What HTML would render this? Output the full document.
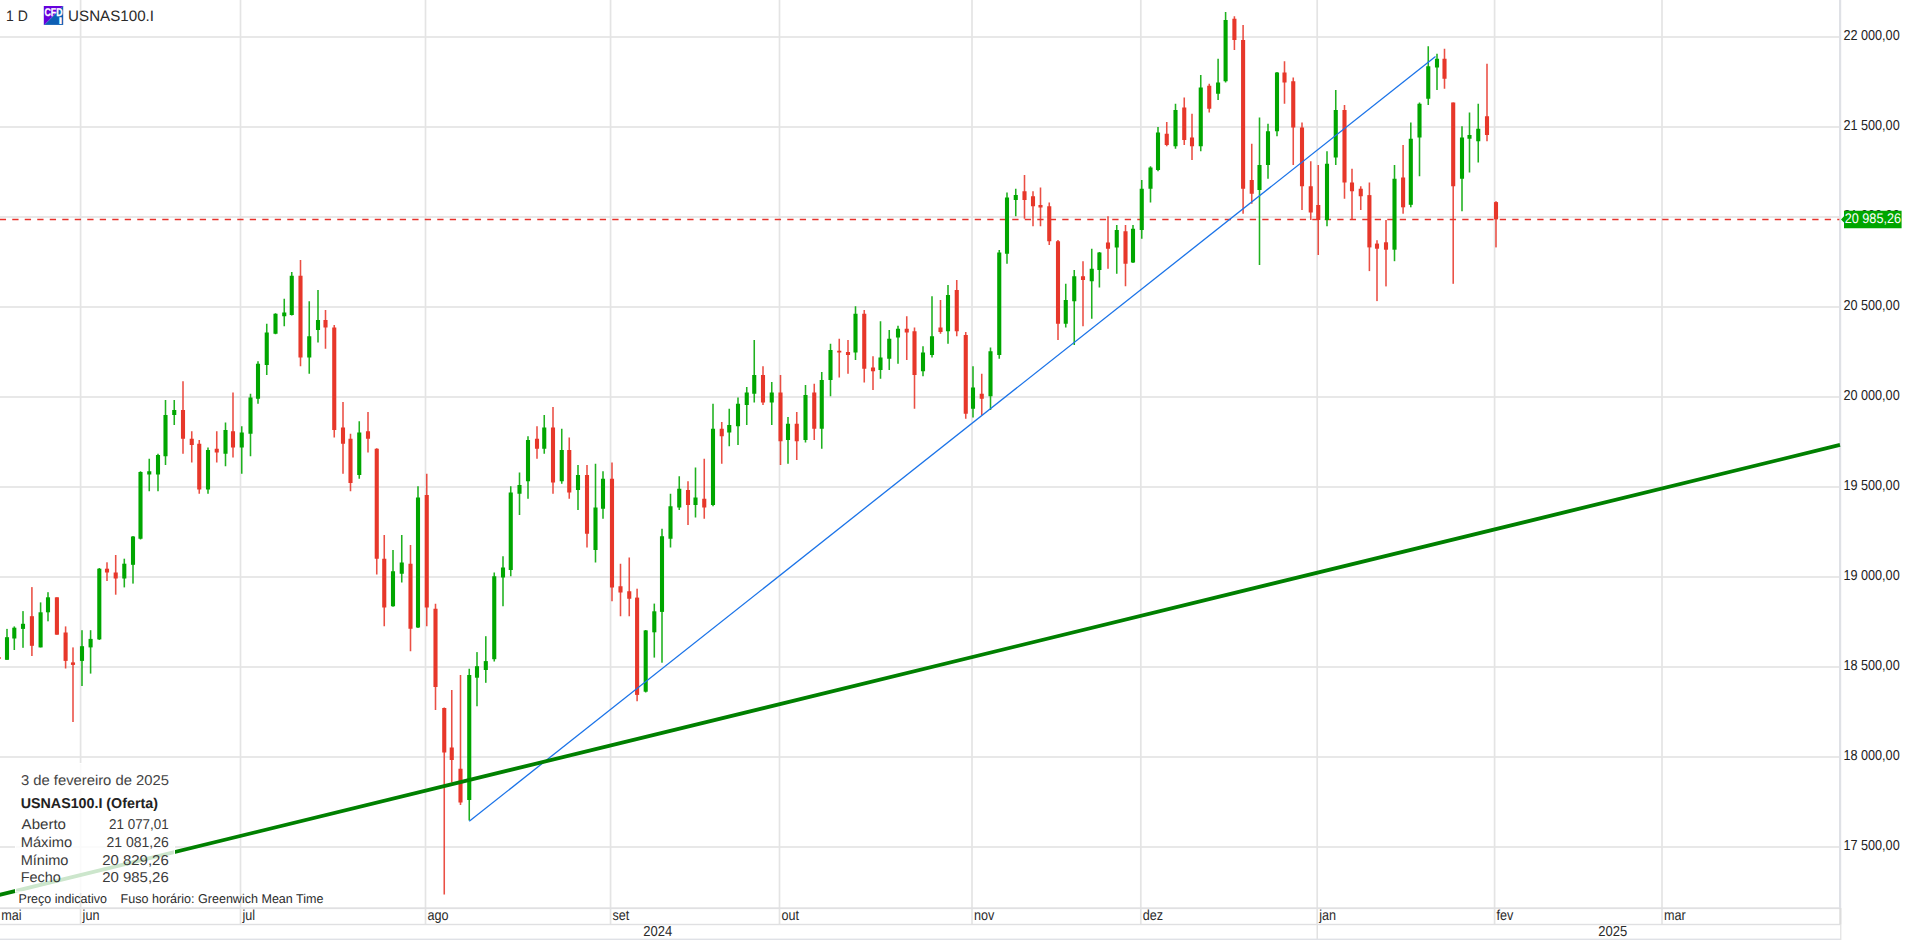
<!DOCTYPE html>
<html lang="pt"><head><meta charset="utf-8"><title>USNAS100.I</title>
<style>
html,body{margin:0;padding:0;background:#fff;}
body{width:1906px;height:940px;position:relative;overflow:hidden;}
svg{position:absolute;left:0;top:0;display:block;}
text{font-family:"Liberation Sans",Arial,sans-serif;text-rendering:geometricPrecision;white-space:pre;}
.ax{font-size:14.5px;fill:#2b2b2b;}
.pl{font-size:14.5px;fill:#222;}
.hd{font-size:15.1px;fill:#2a2a2a;}
.ib{font-size:14.2px;fill:#3a3a3a;}
.ft{font-size:12.8px;fill:#2b2b2b;}
</style></head><body>
<svg width="1906" height="940" viewBox="0 0 1906 940">
<rect x="0" y="35.98" width="1839" height="2.04" fill="#e8e8e8"/>
<rect x="0" y="125.98" width="1839" height="2.04" fill="#e8e8e8"/>
<rect x="0" y="215.98" width="1839" height="2.04" fill="#e8e8e8"/>
<rect x="0" y="305.98" width="1839" height="2.04" fill="#e8e8e8"/>
<rect x="0" y="395.98" width="1839" height="2.04" fill="#e8e8e8"/>
<rect x="0" y="485.98" width="1839" height="2.04" fill="#e8e8e8"/>
<rect x="0" y="575.98" width="1839" height="2.04" fill="#e8e8e8"/>
<rect x="0" y="665.98" width="1839" height="2.04" fill="#e8e8e8"/>
<rect x="0" y="755.98" width="1839" height="2.04" fill="#e8e8e8"/>
<rect x="0" y="845.98" width="1839" height="2.04" fill="#e8e8e8"/>
<rect x="79.75" y="0" width="1.7" height="924.5" fill="#e4e4e4"/>
<rect x="239.65" y="0" width="1.7" height="924.5" fill="#e4e4e4"/>
<rect x="424.65" y="0" width="1.7" height="924.5" fill="#e4e4e4"/>
<rect x="609.70" y="0" width="1.7" height="924.5" fill="#e4e4e4"/>
<rect x="778.65" y="0" width="1.7" height="924.5" fill="#e4e4e4"/>
<rect x="971.15" y="0" width="1.7" height="924.5" fill="#e4e4e4"/>
<rect x="1139.95" y="0" width="1.7" height="924.5" fill="#e4e4e4"/>
<rect x="1316.35" y="0" width="1.7" height="924.5" fill="#e4e4e4"/>
<rect x="1493.75" y="0" width="1.7" height="924.5" fill="#e4e4e4"/>
<rect x="1661.15" y="0" width="1.7" height="924.5" fill="#e4e4e4"/>
<rect x="1316.50" y="924" width="1.5" height="15" fill="#e2e2e2"/>
<rect x="0" y="907.3" width="1841" height="1.8" fill="#e0e0e2"/>
<rect x="0" y="923.8" width="1841" height="1.4" fill="#e0e0e2"/>
<rect x="0" y="938.6" width="1841" height="1.4" fill="#dfe1e6"/>
<rect x="1839" y="0" width="2.2" height="908" fill="#dfe1e6"/>
<rect x="1839.3" y="908" width="2.2" height="16.5" fill="#dcdcdc"/>
<rect x="1840.1" y="924.5" width="1.3" height="15.5" fill="#e4e4e4"/>
<line x1="-0.25" y1="219.45" x2="1839.3" y2="219.45" stroke="#e8312a" stroke-width="1.35" stroke-dasharray="6.3 6.2"/>
<rect x="-2.18" y="656.50" width="1.56" height="3.00" fill="#e7372a" opacity="0.88"/>
<rect x="-3.45" y="657.00" width="4.1" height="2.00" fill="#e7372a"/>
<rect x="6.22" y="628.90" width="1.56" height="30.90" fill="#00a600" opacity="0.88"/>
<rect x="4.95" y="637.20" width="4.1" height="22.60" fill="#00a600"/>
<rect x="13.52" y="626.40" width="1.56" height="23.60" fill="#00a600" opacity="0.88"/>
<rect x="12.25" y="627.70" width="4.1" height="10.80" fill="#00a600"/>
<rect x="22.22" y="611.10" width="1.56" height="36.70" fill="#00a600" opacity="0.88"/>
<rect x="20.95" y="623.80" width="4.1" height="5.10" fill="#00a600"/>
<rect x="31.12" y="587.10" width="1.56" height="68.90" fill="#e7372a" opacity="0.88"/>
<rect x="29.85" y="616.20" width="4.1" height="29.60" fill="#e7372a"/>
<rect x="39.82" y="602.40" width="1.56" height="45.00" fill="#00a600" opacity="0.88"/>
<rect x="38.55" y="612.30" width="4.1" height="35.10" fill="#00a600"/>
<rect x="47.22" y="592.20" width="1.56" height="29.10" fill="#00a600" opacity="0.88"/>
<rect x="45.95" y="597.30" width="4.1" height="15.00" fill="#00a600"/>
<rect x="56.12" y="597.30" width="1.56" height="37.40" fill="#e7372a" opacity="0.88"/>
<rect x="54.85" y="597.30" width="4.1" height="37.40" fill="#e7372a"/>
<rect x="64.82" y="626.40" width="1.56" height="42.10" fill="#e7372a" opacity="0.88"/>
<rect x="63.55" y="632.50" width="4.1" height="28.40" fill="#e7372a"/>
<rect x="72.22" y="647.40" width="1.56" height="74.60" fill="#e7372a" opacity="0.88"/>
<rect x="70.95" y="662.40" width="4.1" height="2.50" fill="#e7372a"/>
<rect x="81.22" y="630.20" width="1.56" height="55.80" fill="#00a600" opacity="0.88"/>
<rect x="79.95" y="646.20" width="4.1" height="14.70" fill="#00a600"/>
<rect x="89.82" y="630.20" width="1.56" height="43.40" fill="#00a600" opacity="0.88"/>
<rect x="88.55" y="638.90" width="4.1" height="8.50" fill="#00a600"/>
<rect x="98.52" y="568.00" width="1.56" height="72.00" fill="#00a600" opacity="0.88"/>
<rect x="97.25" y="568.70" width="4.1" height="70.70" fill="#00a600"/>
<rect x="106.22" y="562.30" width="1.56" height="18.70" fill="#e7372a" opacity="0.88"/>
<rect x="104.95" y="568.70" width="4.1" height="3.80" fill="#e7372a"/>
<rect x="114.92" y="555.00" width="1.56" height="39.70" fill="#e7372a" opacity="0.88"/>
<rect x="113.65" y="572.50" width="4.1" height="6.00" fill="#e7372a"/>
<rect x="123.52" y="558.70" width="1.56" height="28.70" fill="#00a600" opacity="0.88"/>
<rect x="122.25" y="563.70" width="4.1" height="14.80" fill="#00a600"/>
<rect x="132.22" y="536.00" width="1.56" height="47.60" fill="#00a600" opacity="0.88"/>
<rect x="130.95" y="536.50" width="4.1" height="28.30" fill="#00a600"/>
<rect x="139.72" y="471.25" width="1.56" height="68.25" fill="#00a600" opacity="0.88"/>
<rect x="138.45" y="472.00" width="4.1" height="66.75" fill="#00a600"/>
<rect x="148.47" y="458.75" width="1.56" height="32.50" fill="#00a600" opacity="0.88"/>
<rect x="147.20" y="471.25" width="4.1" height="3.25" fill="#00a600"/>
<rect x="157.22" y="453.75" width="1.56" height="37.50" fill="#00a600" opacity="0.88"/>
<rect x="155.95" y="455.00" width="4.1" height="19.50" fill="#00a600"/>
<rect x="164.72" y="400.00" width="1.56" height="65.00" fill="#00a600" opacity="0.88"/>
<rect x="163.45" y="415.00" width="4.1" height="41.25" fill="#00a600"/>
<rect x="173.47" y="400.00" width="1.56" height="25.00" fill="#00a600" opacity="0.88"/>
<rect x="172.20" y="410.00" width="4.1" height="5.00" fill="#00a600"/>
<rect x="182.22" y="381.25" width="1.56" height="72.50" fill="#e7372a" opacity="0.88"/>
<rect x="180.95" y="410.00" width="4.1" height="28.75" fill="#e7372a"/>
<rect x="190.97" y="431.25" width="1.56" height="31.25" fill="#e7372a" opacity="0.88"/>
<rect x="189.70" y="438.75" width="4.1" height="6.25" fill="#e7372a"/>
<rect x="198.47" y="440.00" width="1.56" height="53.75" fill="#e7372a" opacity="0.88"/>
<rect x="197.20" y="443.75" width="4.1" height="45.75" fill="#e7372a"/>
<rect x="207.22" y="447.50" width="1.56" height="46.25" fill="#00a600" opacity="0.88"/>
<rect x="205.95" y="450.00" width="4.1" height="39.50" fill="#00a600"/>
<rect x="215.97" y="431.25" width="1.56" height="31.25" fill="#e7372a" opacity="0.88"/>
<rect x="214.70" y="448.75" width="4.1" height="3.75" fill="#e7372a"/>
<rect x="224.72" y="422.50" width="1.56" height="43.75" fill="#00a600" opacity="0.88"/>
<rect x="223.45" y="430.00" width="4.1" height="23.75" fill="#00a600"/>
<rect x="232.22" y="392.50" width="1.56" height="65.00" fill="#e7372a" opacity="0.88"/>
<rect x="230.95" y="431.25" width="4.1" height="16.25" fill="#e7372a"/>
<rect x="240.97" y="426.25" width="1.56" height="47.50" fill="#00a600" opacity="0.88"/>
<rect x="239.70" y="432.50" width="4.1" height="15.00" fill="#00a600"/>
<rect x="249.72" y="393.75" width="1.56" height="62.50" fill="#00a600" opacity="0.88"/>
<rect x="248.45" y="397.50" width="4.1" height="36.25" fill="#00a600"/>
<rect x="257.22" y="361.25" width="1.56" height="42.50" fill="#00a600" opacity="0.88"/>
<rect x="255.95" y="363.75" width="4.1" height="35.00" fill="#00a600"/>
<rect x="265.97" y="323.75" width="1.56" height="51.25" fill="#00a600" opacity="0.88"/>
<rect x="264.70" y="332.50" width="4.1" height="32.50" fill="#00a600"/>
<rect x="274.72" y="313.25" width="1.56" height="21.00" fill="#00a600" opacity="0.88"/>
<rect x="273.45" y="313.75" width="4.1" height="20.00" fill="#00a600"/>
<rect x="283.47" y="298.75" width="1.56" height="27.50" fill="#00a600" opacity="0.88"/>
<rect x="282.20" y="312.50" width="4.1" height="3.75" fill="#00a600"/>
<rect x="290.97" y="272.00" width="1.56" height="43.50" fill="#00a600" opacity="0.88"/>
<rect x="289.70" y="275.75" width="4.1" height="39.25" fill="#00a600"/>
<rect x="299.72" y="260.00" width="1.56" height="106.25" fill="#e7372a" opacity="0.88"/>
<rect x="298.45" y="275.75" width="4.1" height="81.75" fill="#e7372a"/>
<rect x="308.47" y="301.25" width="1.56" height="72.50" fill="#00a600" opacity="0.88"/>
<rect x="307.20" y="336.25" width="4.1" height="21.25" fill="#00a600"/>
<rect x="317.22" y="290.00" width="1.56" height="52.50" fill="#00a600" opacity="0.88"/>
<rect x="315.95" y="320.00" width="4.1" height="10.00" fill="#00a600"/>
<rect x="324.72" y="310.00" width="1.56" height="38.75" fill="#e7372a" opacity="0.88"/>
<rect x="323.45" y="320.00" width="4.1" height="7.50" fill="#e7372a"/>
<rect x="333.47" y="325.00" width="1.56" height="112.50" fill="#e7372a" opacity="0.88"/>
<rect x="332.20" y="327.50" width="4.1" height="102.50" fill="#e7372a"/>
<rect x="342.22" y="402.00" width="1.56" height="71.75" fill="#e7372a" opacity="0.88"/>
<rect x="340.95" y="427.50" width="4.1" height="16.25" fill="#e7372a"/>
<rect x="349.72" y="433.75" width="1.56" height="57.50" fill="#e7372a" opacity="0.88"/>
<rect x="348.45" y="438.75" width="4.1" height="44.25" fill="#e7372a"/>
<rect x="358.47" y="421.25" width="1.56" height="57.50" fill="#00a600" opacity="0.88"/>
<rect x="357.20" y="432.50" width="4.1" height="42.50" fill="#00a600"/>
<rect x="367.22" y="412.00" width="1.56" height="40.50" fill="#e7372a" opacity="0.88"/>
<rect x="365.95" y="431.25" width="4.1" height="7.50" fill="#e7372a"/>
<rect x="375.97" y="448.25" width="1.56" height="126.25" fill="#e7372a" opacity="0.88"/>
<rect x="374.70" y="448.75" width="4.1" height="110.00" fill="#e7372a"/>
<rect x="383.47" y="535.00" width="1.56" height="91.25" fill="#e7372a" opacity="0.88"/>
<rect x="382.20" y="558.75" width="4.1" height="48.75" fill="#e7372a"/>
<rect x="392.22" y="550.00" width="1.56" height="56.75" fill="#00a600" opacity="0.88"/>
<rect x="390.95" y="571.25" width="4.1" height="35.00" fill="#00a600"/>
<rect x="400.97" y="535.00" width="1.56" height="47.50" fill="#00a600" opacity="0.88"/>
<rect x="399.70" y="562.50" width="4.1" height="11.25" fill="#00a600"/>
<rect x="409.72" y="545.00" width="1.56" height="106.25" fill="#e7372a" opacity="0.88"/>
<rect x="408.45" y="563.75" width="4.1" height="65.00" fill="#e7372a"/>
<rect x="417.22" y="486.25" width="1.56" height="141.75" fill="#00a600" opacity="0.88"/>
<rect x="415.95" y="497.50" width="4.1" height="130.00" fill="#00a600"/>
<rect x="425.97" y="473.75" width="1.56" height="152.50" fill="#e7372a" opacity="0.88"/>
<rect x="424.70" y="495.00" width="4.1" height="112.50" fill="#e7372a"/>
<rect x="434.72" y="603.75" width="1.56" height="106.25" fill="#e7372a" opacity="0.88"/>
<rect x="433.45" y="608.75" width="4.1" height="78.25" fill="#e7372a"/>
<rect x="443.47" y="707.50" width="1.56" height="187.00" fill="#e7372a" opacity="0.88"/>
<rect x="442.20" y="708.00" width="4.1" height="44.50" fill="#e7372a"/>
<rect x="450.97" y="690.00" width="1.56" height="92.50" fill="#e7372a" opacity="0.88"/>
<rect x="449.70" y="747.50" width="4.1" height="12.50" fill="#e7372a"/>
<rect x="459.72" y="675.00" width="1.56" height="130.00" fill="#e7372a" opacity="0.88"/>
<rect x="458.45" y="768.75" width="4.1" height="33.75" fill="#e7372a"/>
<rect x="468.47" y="668.75" width="1.56" height="151.75" fill="#00a600" opacity="0.88"/>
<rect x="467.20" y="675.00" width="4.1" height="125.00" fill="#00a600"/>
<rect x="476.22" y="652.10" width="1.56" height="54.15" fill="#00a600" opacity="0.88"/>
<rect x="474.95" y="666.20" width="4.1" height="11.50" fill="#00a600"/>
<rect x="485.02" y="636.20" width="1.56" height="46.60" fill="#00a600" opacity="0.88"/>
<rect x="483.75" y="661.10" width="4.1" height="8.90" fill="#00a600"/>
<rect x="493.47" y="572.50" width="1.56" height="89.00" fill="#00a600" opacity="0.88"/>
<rect x="492.20" y="576.25" width="4.1" height="82.95" fill="#00a600"/>
<rect x="502.22" y="556.25" width="1.56" height="50.00" fill="#00a600" opacity="0.88"/>
<rect x="500.95" y="567.50" width="4.1" height="10.00" fill="#00a600"/>
<rect x="509.97" y="486.25" width="1.56" height="90.00" fill="#00a600" opacity="0.88"/>
<rect x="508.70" y="492.50" width="4.1" height="77.50" fill="#00a600"/>
<rect x="518.72" y="472.50" width="1.56" height="42.50" fill="#00a600" opacity="0.88"/>
<rect x="517.45" y="485.00" width="4.1" height="8.75" fill="#00a600"/>
<rect x="527.22" y="436.25" width="1.56" height="62.50" fill="#00a600" opacity="0.88"/>
<rect x="525.95" y="440.00" width="4.1" height="41.25" fill="#00a600"/>
<rect x="536.22" y="426.25" width="1.56" height="32.50" fill="#e7372a" opacity="0.88"/>
<rect x="534.95" y="438.75" width="4.1" height="10.00" fill="#e7372a"/>
<rect x="543.47" y="415.00" width="1.56" height="38.75" fill="#00a600" opacity="0.88"/>
<rect x="542.20" y="427.50" width="4.1" height="21.25" fill="#00a600"/>
<rect x="552.22" y="407.00" width="1.56" height="86.75" fill="#e7372a" opacity="0.88"/>
<rect x="550.95" y="427.50" width="4.1" height="55.00" fill="#e7372a"/>
<rect x="560.97" y="428.75" width="1.56" height="55.00" fill="#00a600" opacity="0.88"/>
<rect x="559.70" y="450.00" width="4.1" height="31.25" fill="#00a600"/>
<rect x="568.47" y="437.50" width="1.56" height="61.25" fill="#e7372a" opacity="0.88"/>
<rect x="567.20" y="450.00" width="4.1" height="42.50" fill="#e7372a"/>
<rect x="577.22" y="465.00" width="1.56" height="45.00" fill="#00a600" opacity="0.88"/>
<rect x="575.95" y="475.00" width="4.1" height="15.00" fill="#00a600"/>
<rect x="586.22" y="465.00" width="1.56" height="82.50" fill="#e7372a" opacity="0.88"/>
<rect x="584.95" y="475.00" width="4.1" height="58.75" fill="#e7372a"/>
<rect x="594.72" y="463.75" width="1.56" height="98.75" fill="#00a600" opacity="0.88"/>
<rect x="593.45" y="507.50" width="4.1" height="42.50" fill="#00a600"/>
<rect x="602.22" y="471.25" width="1.56" height="47.50" fill="#00a600" opacity="0.88"/>
<rect x="600.95" y="478.75" width="4.1" height="30.00" fill="#00a600"/>
<rect x="611.22" y="462.50" width="1.56" height="138.75" fill="#e7372a" opacity="0.88"/>
<rect x="609.95" y="478.75" width="4.1" height="108.75" fill="#e7372a"/>
<rect x="619.72" y="563.75" width="1.56" height="52.50" fill="#e7372a" opacity="0.88"/>
<rect x="618.45" y="586.25" width="4.1" height="6.25" fill="#e7372a"/>
<rect x="628.47" y="557.50" width="1.56" height="58.75" fill="#e7372a" opacity="0.88"/>
<rect x="627.20" y="591.25" width="4.1" height="7.50" fill="#e7372a"/>
<rect x="636.32" y="588.70" width="1.56" height="112.55" fill="#e7372a" opacity="0.88"/>
<rect x="635.05" y="597.60" width="4.1" height="97.30" fill="#e7372a"/>
<rect x="644.92" y="630.00" width="1.56" height="62.50" fill="#00a600" opacity="0.88"/>
<rect x="643.65" y="630.40" width="4.1" height="61.30" fill="#00a600"/>
<rect x="653.52" y="603.60" width="1.56" height="54.00" fill="#00a600" opacity="0.88"/>
<rect x="652.25" y="611.30" width="4.1" height="21.00" fill="#00a600"/>
<rect x="661.22" y="528.75" width="1.56" height="133.95" fill="#00a600" opacity="0.88"/>
<rect x="659.95" y="536.25" width="4.1" height="75.65" fill="#00a600"/>
<rect x="669.72" y="493.75" width="1.56" height="53.75" fill="#00a600" opacity="0.88"/>
<rect x="668.45" y="506.25" width="4.1" height="32.50" fill="#00a600"/>
<rect x="678.47" y="476.25" width="1.56" height="33.75" fill="#00a600" opacity="0.88"/>
<rect x="677.20" y="488.75" width="4.1" height="18.75" fill="#00a600"/>
<rect x="687.22" y="481.25" width="1.56" height="43.75" fill="#e7372a" opacity="0.88"/>
<rect x="685.95" y="490.00" width="4.1" height="15.00" fill="#e7372a"/>
<rect x="694.72" y="467.50" width="1.56" height="50.00" fill="#00a600" opacity="0.88"/>
<rect x="693.45" y="497.50" width="4.1" height="7.50" fill="#00a600"/>
<rect x="703.47" y="458.75" width="1.56" height="60.00" fill="#e7372a" opacity="0.88"/>
<rect x="702.20" y="498.75" width="4.1" height="8.75" fill="#e7372a"/>
<rect x="712.22" y="403.75" width="1.56" height="102.50" fill="#00a600" opacity="0.88"/>
<rect x="710.95" y="428.75" width="4.1" height="76.25" fill="#00a600"/>
<rect x="720.97" y="422.00" width="1.56" height="41.75" fill="#e7372a" opacity="0.88"/>
<rect x="719.70" y="428.75" width="4.1" height="7.50" fill="#e7372a"/>
<rect x="728.47" y="408.75" width="1.56" height="37.50" fill="#00a600" opacity="0.88"/>
<rect x="727.20" y="425.00" width="4.1" height="7.50" fill="#00a600"/>
<rect x="737.22" y="397.50" width="1.56" height="47.50" fill="#00a600" opacity="0.88"/>
<rect x="735.95" y="403.75" width="4.1" height="22.50" fill="#00a600"/>
<rect x="745.97" y="387.00" width="1.56" height="38.00" fill="#00a600" opacity="0.88"/>
<rect x="744.70" y="392.50" width="4.1" height="12.50" fill="#00a600"/>
<rect x="753.47" y="340.00" width="1.56" height="62.50" fill="#00a600" opacity="0.88"/>
<rect x="752.20" y="375.00" width="4.1" height="18.75" fill="#00a600"/>
<rect x="762.22" y="366.25" width="1.56" height="38.75" fill="#e7372a" opacity="0.88"/>
<rect x="760.95" y="375.00" width="4.1" height="27.50" fill="#e7372a"/>
<rect x="770.97" y="382.00" width="1.56" height="43.00" fill="#00a600" opacity="0.88"/>
<rect x="769.70" y="392.50" width="4.1" height="10.00" fill="#00a600"/>
<rect x="779.72" y="375.00" width="1.56" height="90.00" fill="#e7372a" opacity="0.88"/>
<rect x="778.45" y="392.50" width="4.1" height="48.75" fill="#e7372a"/>
<rect x="787.22" y="417.00" width="1.56" height="46.75" fill="#00a600" opacity="0.88"/>
<rect x="785.95" y="423.75" width="4.1" height="16.25" fill="#00a600"/>
<rect x="795.97" y="412.00" width="1.56" height="48.00" fill="#e7372a" opacity="0.88"/>
<rect x="794.70" y="423.75" width="4.1" height="17.50" fill="#e7372a"/>
<rect x="804.72" y="385.00" width="1.56" height="57.50" fill="#00a600" opacity="0.88"/>
<rect x="803.45" y="395.00" width="4.1" height="45.00" fill="#00a600"/>
<rect x="813.47" y="383.75" width="1.56" height="56.25" fill="#e7372a" opacity="0.88"/>
<rect x="812.20" y="392.50" width="4.1" height="36.25" fill="#e7372a"/>
<rect x="820.97" y="372.00" width="1.56" height="76.75" fill="#00a600" opacity="0.88"/>
<rect x="819.70" y="380.00" width="4.1" height="48.75" fill="#00a600"/>
<rect x="829.72" y="343.75" width="1.56" height="52.50" fill="#00a600" opacity="0.88"/>
<rect x="828.45" y="350.00" width="4.1" height="30.00" fill="#00a600"/>
<rect x="838.47" y="338.75" width="1.56" height="38.75" fill="#e7372a" opacity="0.88"/>
<rect x="837.20" y="350.75" width="4.1" height="1.75" fill="#e7372a"/>
<rect x="847.22" y="340.00" width="1.56" height="33.75" fill="#e7372a" opacity="0.88"/>
<rect x="845.95" y="352.00" width="4.1" height="3.00" fill="#e7372a"/>
<rect x="854.72" y="306.25" width="1.56" height="53.75" fill="#00a600" opacity="0.88"/>
<rect x="853.45" y="313.75" width="4.1" height="38.75" fill="#00a600"/>
<rect x="863.47" y="310.00" width="1.56" height="72.50" fill="#e7372a" opacity="0.88"/>
<rect x="862.20" y="313.75" width="4.1" height="55.00" fill="#e7372a"/>
<rect x="872.22" y="356.25" width="1.56" height="33.75" fill="#e7372a" opacity="0.88"/>
<rect x="870.95" y="367.50" width="4.1" height="3.75" fill="#e7372a"/>
<rect x="879.72" y="321.25" width="1.56" height="57.50" fill="#00a600" opacity="0.88"/>
<rect x="878.45" y="357.50" width="4.1" height="12.50" fill="#00a600"/>
<rect x="888.47" y="330.00" width="1.56" height="40.00" fill="#00a600" opacity="0.88"/>
<rect x="887.20" y="338.75" width="4.1" height="20.00" fill="#00a600"/>
<rect x="897.22" y="325.75" width="1.56" height="38.00" fill="#00a600" opacity="0.88"/>
<rect x="895.95" y="328.75" width="4.1" height="8.75" fill="#00a600"/>
<rect x="905.97" y="316.25" width="1.56" height="43.75" fill="#e7372a" opacity="0.88"/>
<rect x="904.70" y="328.75" width="4.1" height="3.75" fill="#e7372a"/>
<rect x="913.72" y="327.50" width="1.56" height="81.25" fill="#e7372a" opacity="0.88"/>
<rect x="912.45" y="331.25" width="4.1" height="43.75" fill="#e7372a"/>
<rect x="922.22" y="346.25" width="1.56" height="30.00" fill="#00a600" opacity="0.88"/>
<rect x="920.95" y="352.50" width="4.1" height="18.75" fill="#00a600"/>
<rect x="931.22" y="296.25" width="1.56" height="61.25" fill="#00a600" opacity="0.88"/>
<rect x="929.95" y="336.25" width="4.1" height="18.75" fill="#00a600"/>
<rect x="939.72" y="300.00" width="1.56" height="33.75" fill="#e7372a" opacity="0.88"/>
<rect x="938.45" y="327.50" width="4.1" height="4.50" fill="#e7372a"/>
<rect x="947.22" y="285.00" width="1.56" height="58.75" fill="#00a600" opacity="0.88"/>
<rect x="945.95" y="295.00" width="4.1" height="36.25" fill="#00a600"/>
<rect x="955.97" y="280.00" width="1.56" height="56.25" fill="#e7372a" opacity="0.88"/>
<rect x="954.70" y="290.00" width="4.1" height="41.25" fill="#e7372a"/>
<rect x="964.97" y="332.00" width="1.56" height="86.75" fill="#e7372a" opacity="0.88"/>
<rect x="963.70" y="335.00" width="4.1" height="78.75" fill="#e7372a"/>
<rect x="972.22" y="366.25" width="1.56" height="51.25" fill="#00a600" opacity="0.88"/>
<rect x="970.95" y="387.50" width="4.1" height="21.25" fill="#00a600"/>
<rect x="980.97" y="373.75" width="1.56" height="41.25" fill="#e7372a" opacity="0.88"/>
<rect x="979.70" y="393.75" width="4.1" height="5.00" fill="#e7372a"/>
<rect x="989.72" y="347.50" width="1.56" height="62.50" fill="#00a600" opacity="0.88"/>
<rect x="988.45" y="351.25" width="4.1" height="45.00" fill="#00a600"/>
<rect x="998.47" y="250.00" width="1.56" height="108.75" fill="#00a600" opacity="0.88"/>
<rect x="997.20" y="252.50" width="4.1" height="102.50" fill="#00a600"/>
<rect x="1006.22" y="192.50" width="1.56" height="71.25" fill="#00a600" opacity="0.88"/>
<rect x="1004.95" y="197.50" width="4.1" height="56.25" fill="#00a600"/>
<rect x="1014.97" y="188.75" width="1.56" height="27.50" fill="#00a600" opacity="0.88"/>
<rect x="1013.70" y="195.00" width="4.1" height="5.00" fill="#00a600"/>
<rect x="1023.72" y="175.00" width="1.56" height="43.75" fill="#e7372a" opacity="0.88"/>
<rect x="1022.45" y="191.25" width="4.1" height="8.75" fill="#e7372a"/>
<rect x="1032.22" y="191.25" width="1.56" height="35.00" fill="#e7372a" opacity="0.88"/>
<rect x="1030.95" y="196.25" width="4.1" height="10.00" fill="#e7372a"/>
<rect x="1039.72" y="187.50" width="1.56" height="38.75" fill="#e7372a" opacity="0.88"/>
<rect x="1038.45" y="205.00" width="4.1" height="2.50" fill="#e7372a"/>
<rect x="1048.47" y="202.50" width="1.56" height="42.50" fill="#e7372a" opacity="0.88"/>
<rect x="1047.20" y="206.25" width="4.1" height="35.00" fill="#e7372a"/>
<rect x="1057.22" y="240.00" width="1.56" height="100.00" fill="#e7372a" opacity="0.88"/>
<rect x="1055.95" y="241.25" width="4.1" height="82.50" fill="#e7372a"/>
<rect x="1064.97" y="283.75" width="1.56" height="43.75" fill="#00a600" opacity="0.88"/>
<rect x="1063.70" y="300.00" width="4.1" height="23.75" fill="#00a600"/>
<rect x="1073.47" y="270.00" width="1.56" height="75.00" fill="#00a600" opacity="0.88"/>
<rect x="1072.20" y="276.25" width="4.1" height="25.00" fill="#00a600"/>
<rect x="1082.22" y="261.25" width="1.56" height="65.00" fill="#e7372a" opacity="0.88"/>
<rect x="1080.95" y="276.25" width="4.1" height="3.75" fill="#e7372a"/>
<rect x="1090.97" y="248.75" width="1.56" height="70.00" fill="#00a600" opacity="0.88"/>
<rect x="1089.70" y="268.75" width="4.1" height="12.50" fill="#00a600"/>
<rect x="1098.62" y="252.00" width="1.56" height="35.50" fill="#00a600" opacity="0.88"/>
<rect x="1097.35" y="252.50" width="4.1" height="17.50" fill="#00a600"/>
<rect x="1107.22" y="216.25" width="1.56" height="52.50" fill="#e7372a" opacity="0.88"/>
<rect x="1105.95" y="242.50" width="4.1" height="6.25" fill="#e7372a"/>
<rect x="1115.97" y="225.00" width="1.56" height="48.75" fill="#00a600" opacity="0.88"/>
<rect x="1114.70" y="230.00" width="4.1" height="17.50" fill="#00a600"/>
<rect x="1124.72" y="225.00" width="1.56" height="61.25" fill="#e7372a" opacity="0.88"/>
<rect x="1123.45" y="231.25" width="4.1" height="32.50" fill="#e7372a"/>
<rect x="1132.22" y="225.00" width="1.56" height="38.00" fill="#00a600" opacity="0.88"/>
<rect x="1130.95" y="228.75" width="4.1" height="33.75" fill="#00a600"/>
<rect x="1140.97" y="180.00" width="1.56" height="58.75" fill="#00a600" opacity="0.88"/>
<rect x="1139.70" y="188.75" width="4.1" height="41.25" fill="#00a600"/>
<rect x="1149.72" y="166.25" width="1.56" height="36.25" fill="#00a600" opacity="0.88"/>
<rect x="1148.45" y="167.50" width="4.1" height="21.25" fill="#00a600"/>
<rect x="1157.22" y="127.00" width="1.56" height="44.25" fill="#00a600" opacity="0.88"/>
<rect x="1155.95" y="132.50" width="4.1" height="37.50" fill="#00a600"/>
<rect x="1165.97" y="122.00" width="1.56" height="24.25" fill="#e7372a" opacity="0.88"/>
<rect x="1164.70" y="133.75" width="4.1" height="11.25" fill="#e7372a"/>
<rect x="1174.72" y="103.75" width="1.56" height="45.00" fill="#00a600" opacity="0.88"/>
<rect x="1173.45" y="110.00" width="4.1" height="36.25" fill="#00a600"/>
<rect x="1183.47" y="97.50" width="1.56" height="47.50" fill="#e7372a" opacity="0.88"/>
<rect x="1182.20" y="107.50" width="4.1" height="32.50" fill="#e7372a"/>
<rect x="1191.22" y="113.75" width="1.56" height="46.25" fill="#e7372a" opacity="0.88"/>
<rect x="1189.95" y="137.50" width="4.1" height="8.75" fill="#e7372a"/>
<rect x="1199.97" y="75.00" width="1.56" height="76.25" fill="#00a600" opacity="0.88"/>
<rect x="1198.70" y="87.50" width="4.1" height="58.75" fill="#00a600"/>
<rect x="1208.47" y="83.75" width="1.56" height="28.75" fill="#e7372a" opacity="0.88"/>
<rect x="1207.20" y="85.75" width="4.1" height="23.00" fill="#e7372a"/>
<rect x="1217.32" y="58.75" width="1.56" height="41.25" fill="#00a600" opacity="0.88"/>
<rect x="1216.05" y="82.50" width="4.1" height="11.25" fill="#00a600"/>
<rect x="1224.82" y="12.00" width="1.56" height="70.50" fill="#00a600" opacity="0.88"/>
<rect x="1223.55" y="20.00" width="4.1" height="61.25" fill="#00a600"/>
<rect x="1233.62" y="16.25" width="1.56" height="33.75" fill="#e7372a" opacity="0.88"/>
<rect x="1232.35" y="18.75" width="4.1" height="21.25" fill="#e7372a"/>
<rect x="1242.32" y="25.00" width="1.56" height="188.75" fill="#e7372a" opacity="0.88"/>
<rect x="1241.05" y="40.00" width="4.1" height="148.75" fill="#e7372a"/>
<rect x="1250.97" y="143.75" width="1.56" height="60.00" fill="#e7372a" opacity="0.88"/>
<rect x="1249.70" y="180.00" width="4.1" height="13.75" fill="#e7372a"/>
<rect x="1258.72" y="117.50" width="1.56" height="147.50" fill="#00a600" opacity="0.88"/>
<rect x="1257.45" y="165.00" width="4.1" height="25.00" fill="#00a600"/>
<rect x="1267.22" y="123.75" width="1.56" height="55.00" fill="#00a600" opacity="0.88"/>
<rect x="1265.95" y="131.25" width="4.1" height="33.75" fill="#00a600"/>
<rect x="1276.22" y="72.00" width="1.56" height="64.25" fill="#00a600" opacity="0.88"/>
<rect x="1274.95" y="72.50" width="4.1" height="58.75" fill="#00a600"/>
<rect x="1283.72" y="61.25" width="1.56" height="42.50" fill="#e7372a" opacity="0.88"/>
<rect x="1282.45" y="72.50" width="4.1" height="10.00" fill="#e7372a"/>
<rect x="1292.47" y="77.50" width="1.56" height="87.50" fill="#e7372a" opacity="0.88"/>
<rect x="1291.20" y="81.25" width="4.1" height="46.25" fill="#e7372a"/>
<rect x="1301.22" y="122.50" width="1.56" height="87.50" fill="#e7372a" opacity="0.88"/>
<rect x="1299.95" y="127.50" width="4.1" height="58.75" fill="#e7372a"/>
<rect x="1309.97" y="161.25" width="1.56" height="58.75" fill="#e7372a" opacity="0.88"/>
<rect x="1308.70" y="186.25" width="4.1" height="26.25" fill="#e7372a"/>
<rect x="1317.47" y="165.00" width="1.56" height="90.00" fill="#e7372a" opacity="0.88"/>
<rect x="1316.20" y="205.00" width="4.1" height="15.00" fill="#e7372a"/>
<rect x="1326.22" y="151.25" width="1.56" height="75.00" fill="#00a600" opacity="0.88"/>
<rect x="1324.95" y="163.75" width="4.1" height="56.25" fill="#00a600"/>
<rect x="1334.97" y="90.00" width="1.56" height="75.00" fill="#00a600" opacity="0.88"/>
<rect x="1333.70" y="110.00" width="4.1" height="47.50" fill="#00a600"/>
<rect x="1343.72" y="105.00" width="1.56" height="93.75" fill="#e7372a" opacity="0.88"/>
<rect x="1342.45" y="110.00" width="4.1" height="72.50" fill="#e7372a"/>
<rect x="1351.22" y="168.75" width="1.56" height="51.25" fill="#e7372a" opacity="0.88"/>
<rect x="1349.95" y="182.50" width="4.1" height="8.75" fill="#e7372a"/>
<rect x="1359.97" y="186.25" width="1.56" height="23.75" fill="#e7372a" opacity="0.88"/>
<rect x="1358.70" y="188.75" width="4.1" height="7.50" fill="#e7372a"/>
<rect x="1368.62" y="182.50" width="1.56" height="88.60" fill="#e7372a" opacity="0.88"/>
<rect x="1367.35" y="195.10" width="4.1" height="52.30" fill="#e7372a"/>
<rect x="1376.22" y="240.20" width="1.56" height="60.90" fill="#e7372a" opacity="0.88"/>
<rect x="1374.95" y="243.60" width="4.1" height="5.10" fill="#e7372a"/>
<rect x="1385.22" y="220.00" width="1.56" height="66.40" fill="#e7372a" opacity="0.88"/>
<rect x="1383.95" y="242.30" width="4.1" height="7.40" fill="#e7372a"/>
<rect x="1393.72" y="165.00" width="1.56" height="96.20" fill="#00a600" opacity="0.88"/>
<rect x="1392.45" y="178.75" width="4.1" height="70.95" fill="#00a600"/>
<rect x="1402.32" y="145.00" width="1.56" height="68.70" fill="#e7372a" opacity="0.88"/>
<rect x="1401.05" y="177.50" width="4.1" height="29.80" fill="#e7372a"/>
<rect x="1410.02" y="122.50" width="1.56" height="84.80" fill="#00a600" opacity="0.88"/>
<rect x="1408.75" y="138.75" width="4.1" height="66.05" fill="#00a600"/>
<rect x="1418.72" y="102.50" width="1.56" height="73.75" fill="#00a600" opacity="0.88"/>
<rect x="1417.45" y="103.75" width="4.1" height="33.75" fill="#00a600"/>
<rect x="1427.47" y="46.25" width="1.56" height="58.75" fill="#00a600" opacity="0.88"/>
<rect x="1426.20" y="66.25" width="4.1" height="32.50" fill="#00a600"/>
<rect x="1436.22" y="53.75" width="1.56" height="36.25" fill="#00a600" opacity="0.88"/>
<rect x="1434.95" y="58.75" width="4.1" height="8.75" fill="#00a600"/>
<rect x="1443.72" y="48.75" width="1.56" height="40.00" fill="#e7372a" opacity="0.88"/>
<rect x="1442.45" y="58.75" width="4.1" height="20.00" fill="#e7372a"/>
<rect x="1452.42" y="102.50" width="1.56" height="181.30" fill="#e7372a" opacity="0.88"/>
<rect x="1451.15" y="102.50" width="4.1" height="83.75" fill="#e7372a"/>
<rect x="1461.22" y="126.25" width="1.56" height="85.00" fill="#00a600" opacity="0.88"/>
<rect x="1459.95" y="137.50" width="4.1" height="41.25" fill="#00a600"/>
<rect x="1468.72" y="112.50" width="1.56" height="60.00" fill="#00a600" opacity="0.88"/>
<rect x="1467.45" y="135.00" width="4.1" height="3.75" fill="#00a600"/>
<rect x="1477.47" y="103.75" width="1.56" height="58.75" fill="#00a600" opacity="0.88"/>
<rect x="1476.20" y="128.75" width="4.1" height="12.50" fill="#00a600"/>
<rect x="1486.22" y="63.75" width="1.56" height="77.50" fill="#e7372a" opacity="0.88"/>
<rect x="1484.95" y="116.25" width="4.1" height="18.75" fill="#e7372a"/>
<rect x="1495.22" y="201.20" width="1.56" height="46.20" fill="#e7372a" opacity="0.88"/>
<rect x="1493.95" y="202.10" width="4.1" height="17.30" fill="#e7372a"/>
<line x1="469.25" y1="821.25" x2="1435.5" y2="56.5" stroke="#1a73e8" stroke-width="1.3"/>
<line x1="-4" y1="895.68" x2="1840" y2="444.95" stroke="#008000" stroke-width="3.8"/>
<rect x="15" y="763" width="160" height="129.6" fill="#fff" fill-opacity="0.8"/>
<rect x="15.55" y="763.55" width="158.9" height="128.5" fill="none" stroke="#fff" stroke-width="1.1"/>
<g transform="translate(43.9,6.05)"><rect x="0" y="0" width="19.3" height="18.85" fill="#0d5fb5"/><path d="M0 0 H19.3 L0.5 18.85 H0 Z" fill="#6600dd"/><path d="M19.3 0 L0.5 18.85" stroke="#7aa6e6" stroke-width="0.5" fill="none"/></g>
<text transform="translate(6.1,20.8) scale(0.9277,1)" class="hd">1 D</text>
<text transform="translate(68.1,20.8) scale(1.0038,1)" class="hd">USNAS100.I</text>
<text transform="translate(44.5,15.8) scale(0.7870,1)" font-size="11.2" font-weight="bold" style="fill:#fff" stroke="#fff" stroke-width="0.25">CFD</text>
<text transform="translate(58.3,23.9) scale(1.6000,1)" font-size="9.75" font-weight="bold" style="fill:#fff">I</text>
<text transform="translate(1843.4,40.0) scale(0.8727,1)" class="pl">22 000,00</text>
<text transform="translate(1843.4,130.0) scale(0.8727,1)" class="pl">21 500,00</text>
<text transform="translate(1843.4,220.0) scale(0.8727,1)" class="pl">21 000,00</text>
<text transform="translate(1843.4,310.0) scale(0.8727,1)" class="pl">20 500,00</text>
<text transform="translate(1843.4,400.0) scale(0.8727,1)" class="pl">20 000,00</text>
<text transform="translate(1843.4,490.0) scale(0.8727,1)" class="pl">19 500,00</text>
<text transform="translate(1843.4,580.0) scale(0.8727,1)" class="pl">19 000,00</text>
<text transform="translate(1843.4,670.0) scale(0.8727,1)" class="pl">18 500,00</text>
<text transform="translate(1843.4,760.0) scale(0.8727,1)" class="pl">18 000,00</text>
<text transform="translate(1843.4,850.0) scale(0.8727,1)" class="pl">17 500,00</text>
<path d="M1841 219.4 L1844 216.2 L1844 210.8 L1901.6 210.8 L1901.6 228.2 L1844 228.2 L1844 222.6 Z" fill="#00a600"/>
<text transform="translate(1844.7,223.1) scale(0.9127,1)" font-size="13.9" style="fill:#fff">20 985,26</text>
<text transform="translate(1.2,919.8) scale(0.8700,1)" class="ax">mai</text>
<text transform="translate(82.6,919.8) scale(0.8700,1)" class="ax">jun</text>
<text transform="translate(242.5,919.8) scale(0.8700,1)" class="ax">jul</text>
<text transform="translate(427.5,919.8) scale(0.8700,1)" class="ax">ago</text>
<text transform="translate(612.5,919.8) scale(0.8700,1)" class="ax">set</text>
<text transform="translate(781.5,919.8) scale(0.8700,1)" class="ax">out</text>
<text transform="translate(974.0,919.8) scale(0.8700,1)" class="ax">nov</text>
<text transform="translate(1142.8,919.8) scale(0.8700,1)" class="ax">dez</text>
<text transform="translate(1319.2,919.8) scale(0.8700,1)" class="ax">jan</text>
<text transform="translate(1496.6,919.8) scale(0.8700,1)" class="ax">fev</text>
<text transform="translate(1664.0,919.8) scale(0.8700,1)" class="ax">mar</text>
<text transform="translate(643.3,936) scale(0.8988,1)" class="ax">2024</text>
<text transform="translate(1598.2,936) scale(0.8988,1)" class="ax">2025</text>
<text transform="translate(20.9,784.7) scale(1.0424,1)" class="ib" style="fill:#444">3 de fevereiro de 2025</text>
<text transform="translate(20.7,807.9) scale(1.0058,1)" class="ib" font-weight="bold" style="fill:#222">USNAS100.I (Oferta)</text>
<text transform="translate(21.6,829.1) scale(1.0619,1)" class="ib">Aberto</text>
<text transform="translate(109.1,829.1) scale(0.9442,1)" class="ib">21 077,01</text>
<text transform="translate(20.7,847.0) scale(1.0348,1)" class="ib">Máximo</text>
<text transform="translate(106.5,847.0) scale(0.9853,1)" class="ib">21 081,26</text>
<text transform="translate(20.7,864.8) scale(1.0255,1)" class="ib">Mínimo</text>
<text transform="translate(102.2,864.8) scale(1.0535,1)" class="ib">20 829,26</text>
<text transform="translate(20.7,881.6) scale(1.0193,1)" class="ib">Fecho</text>
<text transform="translate(102.2,881.6) scale(1.0535,1)" class="ib">20 985,26</text>
<text transform="translate(18.6,902.7) scale(0.9774,1)" class="ft">Preço indicativo</text>
<text transform="translate(120.6,902.7) scale(0.9803,1)" class="ft">Fuso horário: Greenwich Mean Time</text>
</svg>
</body></html>
